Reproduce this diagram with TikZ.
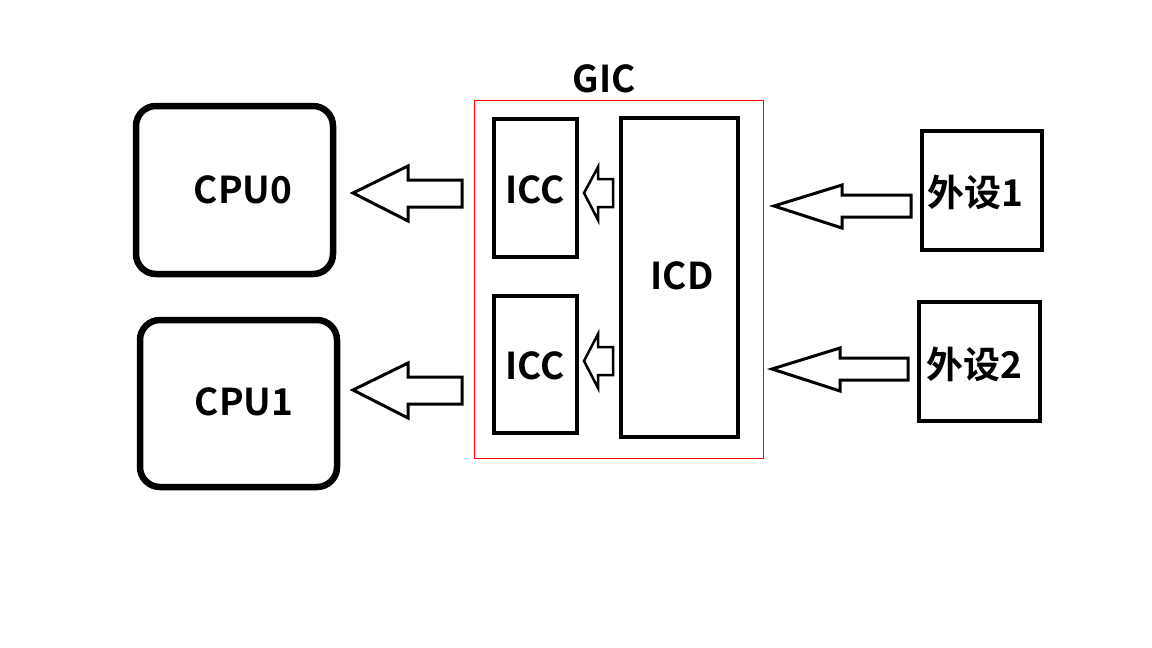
\documentclass[tikz,border=0pt]{standalone}
\usepackage{fontspec}
\setmainfont{Noto Sans CJK SC}[BoldFont=Noto Sans CJK SC Bold]
\begin{document}
\begin{tikzpicture}[x=1pt,y=-1pt,
  lbl/.style={font=\fontsize{37}{40}\selectfont\bfseries, inner sep=0pt},
  cpubox/.style={draw, line width=6.5pt, rounded corners=20pt},
  blk/.style={draw, line width=4pt},
  blockarrow/.style={draw, line width=3pt, line join=miter, fill=white}]
\useasboundingbox[fill=white] (0,0) rectangle (1152,648);
% CPUs
\draw[cpubox] (136,106) rectangle (333,274);
\node[lbl] (cpu0) at (243,190) {CPU0};
\draw[cpubox] (140,320) rectangle (337,487);
\node[lbl] (cpu1) at (244,402) {CPU1};
% GIC
\draw[red, line width=1pt] (474,100) rectangle (763,458);
\node[lbl] (gic) at (604,79) {GIC};
\draw[blk] (494,119) rectangle (577,257);
\node[lbl] (icc0) at (535,190) {ICC};
\draw[blk] (494,296) rectangle (577,433);
\node[lbl] (icc1) at (535,366) {ICC};
\draw[blk] (621,118) rectangle (738,437);
\node[lbl] (icd) at (682,276) {ICD};
% peripherals
\draw[blk] (922,131) rectangle (1042,250);
\node[lbl] (p1) at (975,192) {外设1};
\draw[blk] (919,302) rectangle (1040,421);
\node[lbl] (p2) at (974,364) {外设2};
% big arrows to CPUs
\draw[blockarrow] (353,193) -- (408,166) -- (408,180) -- (462,180) -- (462,207) -- (408,207) -- (408,221) -- cycle;
\draw[blockarrow] (353,390) -- (408,363) -- (408,377) -- (462,377) -- (462,404) -- (408,404) -- (408,418) -- cycle;
% small arrows ICD -> ICC
\draw[blockarrow, line width=2.5pt] (584,193) -- (598,167) -- (598,179) -- (613,179) -- (613,207) -- (598,207) -- (598,220) -- cycle;
\draw[blockarrow, line width=2.5pt] (584,361) -- (598,334) -- (598,347) -- (613,347) -- (613,375) -- (598,375) -- (598,388) -- cycle;
% arrows from peripherals
\draw[blockarrow] (774,206) -- (842,185) -- (842,195) -- (911,195) -- (911,217) -- (842,217) -- (842,228) -- cycle;
\draw[blockarrow] (772,369) -- (840,348) -- (840,358) -- (908,358) -- (908,380) -- (840,380) -- (840,391) -- cycle;
\end{tikzpicture}
\end{document}
